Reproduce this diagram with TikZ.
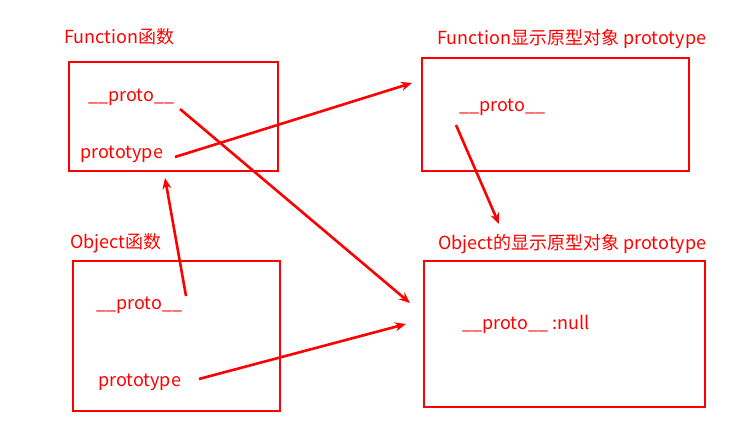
\documentclass[tikz,border=0pt]{standalone}
\usepackage{fontspec}
\setmainfont{Noto Sans CJK SC}
\usetikzlibrary{arrows.meta}
\definecolor{rd}{RGB}{255,0,0}
\begin{document}
\begin{tikzpicture}[x=1pt,y=-1pt,
  box/.style={draw=rd,line width=2pt},
  lbl/.style={text=rd,font=\fontsize{18}{21}\selectfont,inner sep=0pt,anchor=west},
  arr/.style={draw=rd,line width=2.6pt,-{Stealth[length=11pt,width=9pt]}}]
\useasboundingbox (0,0) rectangle (740,438);
% boxes
\draw[box] (69,62) rectangle (278,171);
\draw[box] (422,58) rectangle (689,171);
\draw[box] (73,261) rectangle (280,411);
\draw[box] (424,261) rectangle (705,407);
% titles
\node[lbl] (t1) at (64,37) {Function函数};
\node[lbl] (t2) at (437,39) {Function显示原型对象 prototype};
\node[lbl] (t3) at (70,243) {Object函数};
\node[lbl] (t4) at (438,244) {Object的显示原型对象 prototype};
% contents
\node[lbl] (fp) at (88,97) {\_\_proto\_\_};
\node[lbl] (fpt) at (80,154) {prototype};
\node[lbl] (fop) at (459,107) {\_\_proto\_\_};
\node[lbl] (op) at (96,305) {\_\_proto\_\_};
\node[lbl] (opt) at (98,382) {prototype};
\node[lbl] (oop) at (462,324) {\_\_proto\_\_ :null};
% connector ends
\coordinate (a1s) at (175,157); \coordinate (a1e) at (412,83);
\coordinate (a2s) at (180,109); \coordinate (a2e) at (410,303);
\coordinate (a3s) at (186,296); \coordinate (a3e) at (165,178);
\coordinate (a4s) at (199,379); \coordinate (a4e) at (406,324);
\coordinate (a5s) at (456,125); \coordinate (a5e) at (499,224);
\draw[arr] (a1s) -- (a1e);
\draw[arr] (a2s) -- (a2e);
\draw[arr] (a3s) -- (a3e);
\draw[arr] (a4s) -- (a4e);
\draw[arr] (a5s) -- (a5e);
\end{tikzpicture}
\end{document}
